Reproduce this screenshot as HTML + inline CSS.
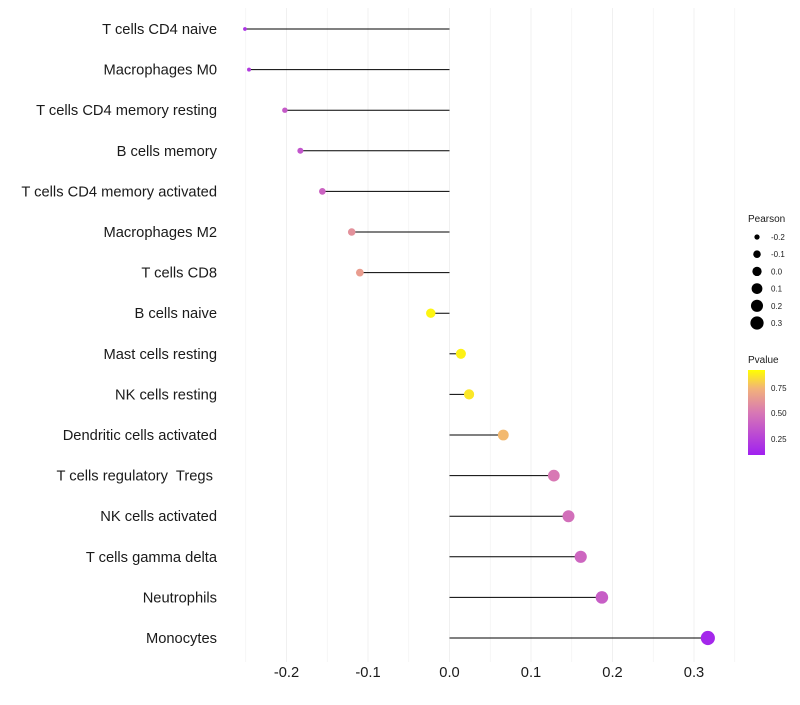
<!DOCTYPE html>
<html><head><meta charset="utf-8"><style>
body{margin:0;background:#fff;}
svg text{font-family:"Liberation Sans",sans-serif;fill:#1a1a1a;white-space:pre;}
</style></head><body>
<svg id="chart" width="800" height="700">
<defs><linearGradient id="pg" x1="0" y1="1" x2="0" y2="0">
<stop offset="0" stop-color="#a020f0"/><stop offset="0.5" stop-color="#d878b4"/><stop offset="0.78" stop-color="#f2b27a"/><stop offset="1" stop-color="#ffff00"/></linearGradient></defs>
<g id="grid"></g><g id="marks"></g><g id="labels"></g>
<g id="sleg"><text x="748" y="222" font-size="10">Pearson</text></g>
<g>
<text x="748" y="363" font-size="10">Pvalue</text>
<rect x="748" y="370" width="17" height="85" fill="url(#pg)"/>
<text x="771" y="391" font-size="8">0.75</text><text x="771" y="416" font-size="8">0.50</text><text x="771" y="442" font-size="8">0.25</text>
</g>
</svg>
<script>
const categories=["T cells CD4 naive","Macrophages M0","T cells CD4 memory resting","B cells memory","T cells CD4 memory activated","Macrophages M2","T cells CD8","B cells naive","Mast cells resting","NK cells resting","Dendritic cells activated","T cells regulatory  Tregs ","NK cells activated","T cells gamma delta","Neutrophils","Monocytes"];
const pearson=[-0.251,-0.246,-0.202,-0.183,-0.156,-0.12,-0.11,-0.023,0.014,0.024,0.066,0.128,0.146,0.161,0.187,0.317];
const pvalue=[0.1,0.15,0.33,0.3,0.38,0.62,0.68,0.97,0.96,0.93,0.8,0.5,0.45,0.4,0.35,0.04];
const xticks=[-0.2,-0.1,0.0,0.1,0.2,0.3];
const sizeLegend=[-0.2,-0.1,0.0,0.1,0.2,0.3];
const NS="http://www.w3.org/2000/svg";
const X=v=>449.5+v*815;
const Y=i=>29+i*40.6;
const R=v=>Math.sqrt(Math.max(1,24+82*v));
const stops=[[0,[160,32,240]],[0.5,[216,120,180]],[0.78,[242,178,122]],[1,[255,255,0]]];
function col(p){for(let k=1;k<stops.length;k++){if(p<=stops[k][0]){const a=stops[k-1],b=stops[k],t=(p-a[0])/(b[0]-a[0]);return "rgb("+a[1].map((c,j)=>Math.round(c+(b[1][j]-c)*t)).join(",")+")";}}return "rgb(255,255,0)";}
function mk(t,a,p){const e=document.createElementNS(NS,t);for(const k in a)e.setAttribute(k,a[k]);p.appendChild(e);return e;}
const grid=document.getElementById("grid"),marks=document.getElementById("marks"),labels=document.getElementById("labels"),sleg=document.getElementById("sleg");
for(let v=-0.25;v<=0.376;v+=0.05){const g=mk("line",{x1:X(v),x2:X(v),y1:8,y2:662,stroke:"#f0f0f0","stroke-width":Math.abs(Math.round(v*20))%2?0.6:1},grid);

}
xticks.forEach(v=>{const t=mk("text",{x:X(v),y:677,"font-size":14.7,"text-anchor":"middle"},labels);t.textContent=v.toFixed(1);

});
categories.forEach((c,i)=>{
const t=mk("text",{x:217,y:Y(i)+5,"font-size":14.7,"text-anchor":"end"},labels);t.textContent=c;


const l=mk("line",{x1:X(0),x2:X(pearson[i]),y1:Y(i),y2:Y(i),stroke:"#000","stroke-width":1},marks);


const d=mk("circle",{cx:X(pearson[i]),cy:Y(i),r:R(pearson[i]),fill:col(pvalue[i])},marks);


});
sizeLegend.forEach((v,i)=>{const y=237+i*17.2;
const c=mk("circle",{cx:757,cy:y,r:R(v)*0.95,fill:"#000"},sleg);


const t=mk("text",{x:771,y:y+3,"font-size":8},sleg);t.textContent=v.toFixed(1);

});
</script>
</body></html>
